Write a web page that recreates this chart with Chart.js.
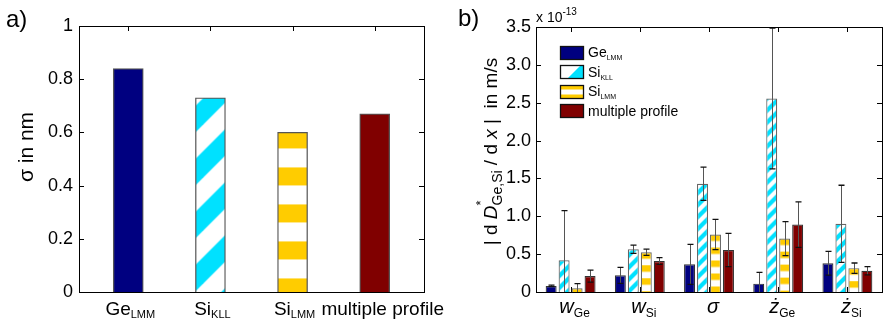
<!DOCTYPE html>
<html>
<head>
<meta charset="utf-8">
<script src="https://cdn.jsdelivr.net/npm/chart.js@4.4.1/dist/chart.umd.min.js"></script>
<style>
  body { margin: 0; background: #fff; }
  #wrap { position: relative; width: 887px; height: 325px; }
  canvas { position: absolute; top: 0; }
  #sigmaChart { left: 0; }
  #slopeChart { left: 440px; }
</style>
</head>
<body>
<div id="wrap">
  <canvas id="sigmaChart" width="470" height="325"></canvas>
  <canvas id="slopeChart" width="447" height="325"></canvas>
</div>
<script>
const FONT = '"Liberation Sans", Arial, sans-serif';
const NAVY = "#000080";
const CYAN = "#00E1FF";
const GOLD = "#FFCC00";
const MAROON = "#800000";

// panel a) - sigma per evaluation method
const methods = [["Ge", "LMM"], ["Si", "KLL"], ["Si", "LMM"], ["multiple profile", ""]];
const sigmaNm = [0.84, 0.73, 0.60, 0.67];

// panel b) - |dD*/dx| for each fit parameter (x 1e-13 m/s)
const params = [["w", "Ge"], ["w", "Si"], ["σ", ""], ["ż", "Ge"], ["ż", "Si"]];
const geLMM = [0.08, 0.22, 0.365, 0.11, 0.38];
const geLMMErr = [0.01, 0.105, 0.265, 0.15, 0.157];
const siKLL = [0.42, 0.565, 1.43, 2.555, 0.90];
const siKLLErr = [0.655, 0.055, 0.22, 0.93, 0.51];
const siLMM = [0.05, 0.525, 0.76, 0.705, 0.315];
const siLMMErr = [0.06, 0.04, 0.2, 0.225, 0.068];
const multiProfile = [0.21, 0.41, 0.555, 0.89, 0.28];
const multiProfileErr = [0.08, 0.045, 0.22, 0.3, 0.055];

// ---- hatch tiles ----
function diagTile(period, color) {
  const c = document.createElement("canvas");
  c.width = c.height = period;
  const g = c.getContext("2d");
  g.fillStyle = "#fff";
  g.fillRect(0, 0, period, period);
  g.fillStyle = color;
  for (let k = -1; k <= 2; k++) {
    const a = k * period, b = a + period / 2;
    g.beginPath();
    g.moveTo(a, 0);
    g.lineTo(b, 0);
    g.lineTo(b - 2 * period, 2 * period);
    g.lineTo(a - 2 * period, 2 * period);
    g.closePath();
    g.fill();
  }
  return c;
}
function bandTile(period, color, len) {
  const c = document.createElement("canvas");
  c.width = 4;
  c.height = period;
  const g = c.getContext("2d");
  g.fillStyle = "#fff";
  g.fillRect(0, 0, 4, period);
  g.fillStyle = color;
  g.fillRect(0, 0, 4, len);
  return c;
}
function patternAt(ctx, tile, x, y) {
  const p = ctx.createPattern(tile, "repeat");
  p.setTransform(new DOMMatrix().translate(x, y));
  return p;
}
const bigDiag = diagTile(53, CYAN);
const bigBand = bandTile(37, GOLD, 18);
const smallDiag = diagTile(12, CYAN);
const smallBand = bandTile(13, GOLD, 6.5);

// ---- text with sub/superscripts ----
function fontOf(p) {
  return (p.it ? "italic " : "") + p.px + "px " + FONT;
}
function richText(ctx, parts, x, y) {
  let w = 0;
  parts.forEach(p => {
    ctx.font = fontOf(p);
    if (!p.keep) w += ctx.measureText(p.t).width;
  });
  let cx = x - w / 2;
  parts.forEach(p => {
    ctx.font = fontOf(p);
    ctx.fillText(p.t, cx, y + (p.dy || 0));
    if (!p.keep) cx += ctx.measureText(p.t).width;
  });
}

// box, inward ticks and error bars
const framePlugin = {
  id: "frame",
  beforeDatasetsDraw(chart, args, opts) {
    const { ctx, chartArea: a, scales } = chart;
    ctx.save();
    ctx.strokeStyle = "#000";
    ctx.lineWidth = 1;
    ctx.beginPath();
    scales.y.ticks.forEach(t => {
      const y = Math.round(scales.y.getPixelForValue(t.value)) + 0.5;
      ctx.moveTo(a.left, y); ctx.lineTo(a.left + 5, y);
      ctx.moveTo(a.right, y); ctx.lineTo(a.right - 5, y);
    });
    opts.xTicks.forEach(v => {
      const x = Math.round(scales.x.getPixelForValue(v)) + 0.5;
      ctx.moveTo(x, a.top); ctx.lineTo(x, a.top + 5);
      ctx.moveTo(x, a.bottom); ctx.lineTo(x, a.bottom - 5);
    });
    ctx.stroke();
    ctx.restore();
  },
  afterDatasetsDraw(chart, args, opts) {
    const { ctx, chartArea: a, scales } = chart;
    ctx.save();
    if (opts.errors) {
      ctx.beginPath();
      ctx.rect(a.left, a.top - 1, a.right - a.left, a.bottom - a.top + 1);
      ctx.clip();
      opts.errors.forEach((errs, d) => {
        const meta = chart.getDatasetMeta(d);
        meta.data.forEach((bar, i) => {
          const v = chart.data.datasets[d].data[i];
          const x = Math.round(bar.x) + 0.5;
          const hi = scales.y.getPixelForValue(v + errs[i]);
          const lo = scales.y.getPixelForValue(Math.max(v - errs[i], -0.2));
          ctx.strokeStyle = "#555";
          ctx.lineWidth = 1;
          ctx.beginPath();
          ctx.moveTo(x, hi); ctx.lineTo(x, lo);
          ctx.stroke();
          ctx.strokeStyle = "#111";
          ctx.lineWidth = 1.3;
          ctx.beginPath();
          ctx.moveTo(x - 3, hi); ctx.lineTo(x + 3, hi);
          ctx.moveTo(x - 3, lo); ctx.lineTo(x + 3, lo);
          ctx.stroke();
        });
      });
    }
    ctx.restore();
    ctx.save();
    ctx.strokeStyle = "#000";
    ctx.lineWidth = 1;
    ctx.strokeRect(Math.round(a.left) + 0.5, Math.round(a.top) + 0.5,
      Math.round(a.right - a.left), Math.round(a.bottom - a.top));
    ctx.restore();
  }
};

// ---- panel a) ----
const sigmaLabels = {
  id: "sigmaLabels",
  afterDraw(chart) {
    const { ctx, scales } = chart;
    ctx.save();
    ctx.fillStyle = "#000";
    ctx.textBaseline = "alphabetic";
    methods.forEach((m, i) => {
      const x = scales.x.getPixelForValue(i + 1);
      const parts = [{ t: m[0], px: 19 }];
      if (m[1]) parts.push({ t: m[1], px: 11, dy: 3 });
      richText(ctx, parts, x + (m[1] ? 2 : 8), 315);
    });
    ctx.font = "24px " + FONT;
    ctx.fillText("a)", 6, 27);
    ctx.translate(33, 147);
    ctx.rotate(-Math.PI / 2);
    richText(ctx, [{ t: "σ in nm", px: 21 }], 0, 0);
    ctx.restore();
  }
};

new Chart(document.getElementById("sigmaChart"), {
  type: "bar",
  data: {
    datasets: [{
      data: sigmaNm.map((v, i) => ({ x: i + 1, y: v })),
      barThickness: 30,
      borderColor: "#555",
      borderWidth: 1.3,
      borderSkipped: "bottom",
      backgroundColor(c) {
        const fills = [NAVY, CYAN, GOLD, MAROON];
        const i = c.dataIndex;
        const s = c.chart.scales;
        if (c.type !== "data" || !s.y || !s.x) return fills[i] || NAVY;
        const top = s.y.getPixelForValue(sigmaNm[i]);
        const cx = s.x.getPixelForValue(i + 1);
        if (i === 1) return patternAt(c.chart.ctx, bigDiag, cx - 15 + 8, top);
        if (i === 2) return patternAt(c.chart.ctx, bigBand, 0, top - 2);
        return fills[i];
      }
    }]
  },
  options: {
    responsive: false,
    animation: false,
    events: [],
    layout: { padding: { left: 0, top: 26, right: 46, bottom: 0 } },
    scales: {
      x: {
        type: "linear", min: 0.4, max: 4.6, offset: false,
        ticks: { display: false },
        grid: { display: false, drawTicks: false },
        border: { display: false },
        afterFit(s) { s.height = 33; }
      },
      y: {
        min: 0, max: 1,
        ticks: {
          stepSize: 0.2, padding: 6, color: "#000",
          font: { family: FONT, size: 18 },
          callback: v => (v === 0 ? "0" : v === 1 ? "1" : v.toFixed(1))
        },
        grid: { display: false, drawTicks: false },
        border: { display: false },
        afterFit(s) { s.width = 79; }
      }
    },
    plugins: {
      legend: { display: false },
      tooltip: { enabled: false },
      frame: { xTicks: [1, 2, 3, 4] }
    }
  },
  plugins: [framePlugin, sigmaLabels]
});

// ---- panel b) ----
const seriesNames = [["Ge", "LMM"], ["Si", "KLL"], ["Si", "LMM"], ["multiple profile", ""]];
const seriesValues = [geLMM, siKLL, siLMM, multiProfile];
const seriesErrors = [geLMMErr, siKLLErr, siLMMErr, multiProfileErr];

function seriesFill(d) {
  return c => {
    const plain = [NAVY, CYAN, GOLD, MAROON][d];
    const s = c.chart.scales;
    if (c.type !== "data" || !s.y) return plain;
    const top = s.y.getPixelForValue(seriesValues[d][c.dataIndex]);
    if (d === 1) return patternAt(c.chart.ctx, smallDiag, 0, top);
    if (d === 2) return patternAt(c.chart.ctx, smallBand, 0, top);
    return plain;
  };
}

const slopeLabels = {
  id: "slopeLabels",
  afterDraw(chart) {
    const { ctx, scales, chartArea: a } = chart;
    ctx.save();
    ctx.fillStyle = "#000";
    params.forEach((p, i) => {
      const x = scales.x.getPixelForValue(i);
      const parts = [{ t: p[0], px: 20, it: true }];
      if (p[1]) parts.push({ t: p[1], px: 12, dy: 4 });
      richText(ctx, parts, x + 4, 313);
    });

    // legend
    const bx = a.left + 24;
    seriesNames.forEach((n, d) => {
      const cy = a.top + 25 + d * 19.5;
      const y0 = Math.round(cy - 6.5) + 0.5, y1 = y0 + 13, x0 = bx + 0.5, x1 = x0 + 23;
      if (d === 0 || d === 3) {
        ctx.fillStyle = d === 0 ? NAVY : MAROON;
        ctx.fillRect(x0, y0, 23, 13);
      } else if (d === 1) {
        ctx.fillStyle = "#fff";
        ctx.fillRect(x0, y0, 23, 13);
        ctx.fillStyle = CYAN;
        ctx.beginPath();
        ctx.moveTo(x0 + 7, y1); ctx.lineTo(x1 - 3, y0); ctx.lineTo(x1, y0); ctx.lineTo(x1, y1);
        ctx.closePath();
        ctx.fill();
      } else {
        ctx.fillStyle = "#fff";
        ctx.fillRect(x0, y0, 23, 13);
        ctx.fillStyle = GOLD;
        ctx.fillRect(x0, y0, 23, 4);
        ctx.fillRect(x0, y1 - 4, 23, 4);
      }
      ctx.strokeStyle = "#111";
      ctx.lineWidth = 1.3;
      ctx.strokeRect(x0, y0, 23, 13);
      ctx.fillStyle = "#000";
      ctx.font = "14px " + FONT;
      ctx.fillText(n[0], bx + 28, cy + 5);
      if (n[1]) {
        const w = ctx.measureText(n[0]).width;
        ctx.font = "7px " + FONT;
        ctx.fillText(n[1], bx + 28 + w, cy + 8);
      }
    });

    // exponent and panel letter
    ctx.font = "14px " + FONT;
    ctx.fillText("x 10", a.left, 22);
    const ew = ctx.measureText("x 10").width;
    ctx.font = "10px " + FONT;
    ctx.fillText("-13", a.left + ew, 15);
    ctx.font = "24px " + FONT;
    ctx.fillText("b)", 18, 26);

    // y axis title
    ctx.translate(57, 151.5);
    ctx.rotate(-Math.PI / 2);
    richText(ctx, [
      { t: "| d ", px: 19 },
      { t: "D", px: 19, it: true },
      { t: "*", px: 13, dy: -12, keep: true },
      { t: "Ge,Si", px: 14, dy: 5 },
      { t: " / d ", px: 19 },
      { t: "x", px: 19, it: true },
      { t: " |  in m/s", px: 19 }
    ], 0, 0);
    ctx.restore();
  }
};

new Chart(document.getElementById("slopeChart"), {
  type: "bar",
  data: {
    labels: params.map(p => p.join("")),
    datasets: seriesValues.map((vals, d) => ({
      data: vals,
      backgroundColor: seriesFill(d),
      borderColor: d === 1 || d === 2 ? "#666" : "#333",
      borderWidth: 1.2,
      borderSkipped: "bottom",
      categoryPercentage: 0.75,
      barPercentage: 0.846
    }))
  },
  options: {
    responsive: false,
    animation: false,
    events: [],
    layout: { padding: { left: 0, top: 27, right: 5, bottom: 0 } },
    scales: {
      x: {
        ticks: { display: false },
        grid: { display: false, drawTicks: false },
        border: { display: false },
        afterFit(s) { s.height = 33; }
      },
      y: {
        min: 0, max: 3.5,
        ticks: {
          stepSize: 0.5, padding: 5, color: "#000",
          font: { family: FONT, size: 18 },
          callback: v => (v === 0 ? "0" : v.toFixed(1))
        },
        grid: { display: false, drawTicks: false },
        border: { display: false },
        afterFit(s) { s.width = 96; }
      }
    },
    plugins: {
      legend: { display: false },
      tooltip: { enabled: false },
      frame: { xTicks: [0, 1, 2, 3, 4], errors: seriesErrors }
    }
  },
  plugins: [framePlugin, slopeLabels]
});
</script>
</body>
</html>
